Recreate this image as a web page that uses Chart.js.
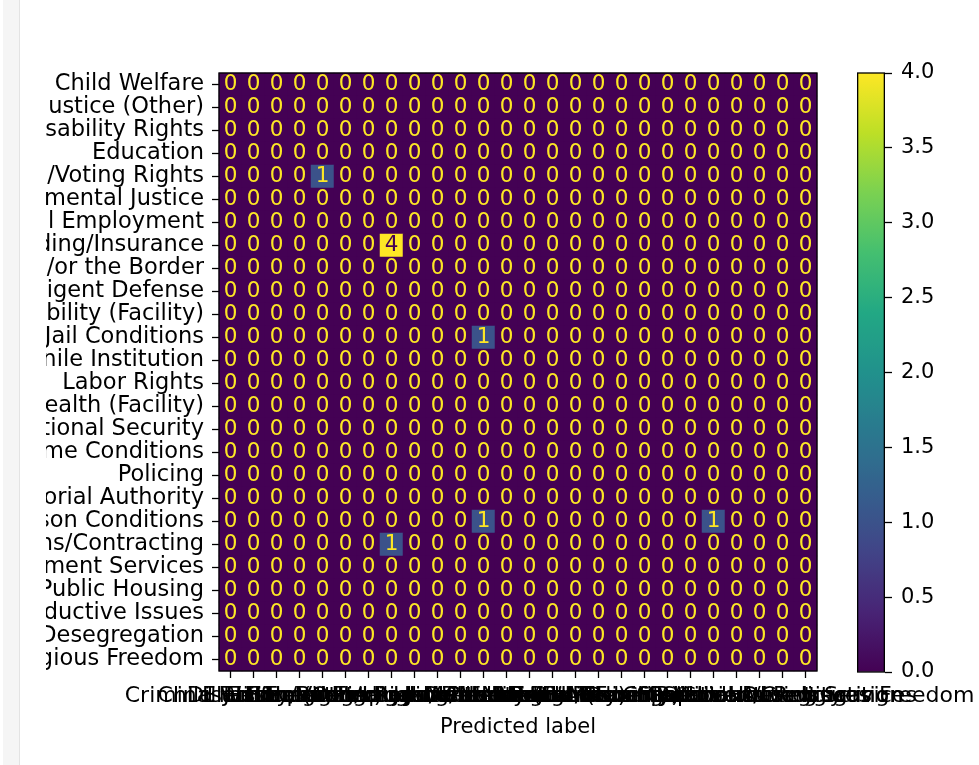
<!DOCTYPE html>
<html>
<head>
<meta charset="utf-8">
<script src="https://cdn.jsdelivr.net/npm/chart.js@4/dist/chart.umd.min.js"></script>
<style>
  html, body { margin: 0; padding: 0; background: #fff; width: 979px; height: 765px; overflow: hidden; position: relative; }
  #gutter { position: absolute; left: 3px; top: 0; width: 16px; height: 765px; background: #f5f5f5; border-right: 1px solid #e3e3e3; }
  #clip { position: absolute; left: 46px; top: 0; width: 933px; height: 765px; overflow: hidden; }
  #matrixBox { position: absolute; left: -406px; top: 0; width: 1400px; height: 765px; }
  #barBox { position: absolute; left: 857px; top: 0; width: 122px; height: 765px; }
</style>
</head>
<body>
<div id="gutter"></div>
<div id="clip"><div id="matrixBox"><canvas id="matrix" width="1400" height="765"></canvas></div></div>
<div id="barBox"><canvas id="colorbar" width="122" height="765"></canvas></div>
<script>
// Case categories (true label rows, predicted label columns)
const categories = [
  "Child Welfare",
  "Criminal Justice (Other)",
  "Disability Rights",
  "Education",
  "Election/Voting Rights",
  "Environmental Justice",
  "Equal Employment",
  "Fair Housing/Lending/Insurance",
  "Immigration and/or the Border",
  "Indigent Defense",
  "Intellectual Disability (Facility)",
  "Jail Conditions",
  "Juvenile Institution",
  "Labor Rights",
  "Mental Health (Facility)",
  "National Security",
  "Nursing Home Conditions",
  "Policing",
  "Presidential/Gubernatorial Authority",
  "Prison Conditions",
  "Public Accommodations/Contracting",
  "Public Benefits/Government Services",
  "Public Housing",
  "Reproductive Issues",
  "School Desegregation",
  "Speech and Religious Freedom"
];

// Confusion counts, one row per true label
const counts = [
  [0,0,0,0,0,0,0,0,0,0,0,0,0,0,0,0,0,0,0,0,0,0,0,0,0,0],
  [0,0,0,0,0,0,0,0,0,0,0,0,0,0,0,0,0,0,0,0,0,0,0,0,0,0],
  [0,0,0,0,0,0,0,0,0,0,0,0,0,0,0,0,0,0,0,0,0,0,0,0,0,0],
  [0,0,0,0,0,0,0,0,0,0,0,0,0,0,0,0,0,0,0,0,0,0,0,0,0,0],
  [0,0,0,0,1,0,0,0,0,0,0,0,0,0,0,0,0,0,0,0,0,0,0,0,0,0],
  [0,0,0,0,0,0,0,0,0,0,0,0,0,0,0,0,0,0,0,0,0,0,0,0,0,0],
  [0,0,0,0,0,0,0,0,0,0,0,0,0,0,0,0,0,0,0,0,0,0,0,0,0,0],
  [0,0,0,0,0,0,0,4,0,0,0,0,0,0,0,0,0,0,0,0,0,0,0,0,0,0],
  [0,0,0,0,0,0,0,0,0,0,0,0,0,0,0,0,0,0,0,0,0,0,0,0,0,0],
  [0,0,0,0,0,0,0,0,0,0,0,0,0,0,0,0,0,0,0,0,0,0,0,0,0,0],
  [0,0,0,0,0,0,0,0,0,0,0,0,0,0,0,0,0,0,0,0,0,0,0,0,0,0],
  [0,0,0,0,0,0,0,0,0,0,0,1,0,0,0,0,0,0,0,0,0,0,0,0,0,0],
  [0,0,0,0,0,0,0,0,0,0,0,0,0,0,0,0,0,0,0,0,0,0,0,0,0,0],
  [0,0,0,0,0,0,0,0,0,0,0,0,0,0,0,0,0,0,0,0,0,0,0,0,0,0],
  [0,0,0,0,0,0,0,0,0,0,0,0,0,0,0,0,0,0,0,0,0,0,0,0,0,0],
  [0,0,0,0,0,0,0,0,0,0,0,0,0,0,0,0,0,0,0,0,0,0,0,0,0,0],
  [0,0,0,0,0,0,0,0,0,0,0,0,0,0,0,0,0,0,0,0,0,0,0,0,0,0],
  [0,0,0,0,0,0,0,0,0,0,0,0,0,0,0,0,0,0,0,0,0,0,0,0,0,0],
  [0,0,0,0,0,0,0,0,0,0,0,0,0,0,0,0,0,0,0,0,0,0,0,0,0,0],
  [0,0,0,0,0,0,0,0,0,0,0,1,0,0,0,0,0,0,0,0,0,1,0,0,0,0],
  [0,0,0,0,0,0,0,1,0,0,0,0,0,0,0,0,0,0,0,0,0,0,0,0,0,0],
  [0,0,0,0,0,0,0,0,0,0,0,0,0,0,0,0,0,0,0,0,0,0,0,0,0,0],
  [0,0,0,0,0,0,0,0,0,0,0,0,0,0,0,0,0,0,0,0,0,0,0,0,0,0],
  [0,0,0,0,0,0,0,0,0,0,0,0,0,0,0,0,0,0,0,0,0,0,0,0,0,0],
  [0,0,0,0,0,0,0,0,0,0,0,0,0,0,0,0,0,0,0,0,0,0,0,0,0,0],
  [0,0,0,0,0,0,0,0,0,0,0,0,0,0,0,0,0,0,0,0,0,0,0,0,0,0]
];

// Colour bar tick values
const colorbarTicks = [0.0, 0.5, 1.0, 1.5, 2.0, 2.5, 3.0, 3.5, 4.0];

// Viridis colour map stops
const viridis = ["#440154", "#482475", "#414487", "#355f8d", "#2a788e",
                 "#21918c", "#22a884", "#44bf70", "#7ad151", "#bddf26", "#fde725"];

function hexToRgb(h) {
  return [parseInt(h.slice(1, 3), 16), parseInt(h.slice(3, 5), 16), parseInt(h.slice(5, 7), 16)];
}
function colorAt(t) {
  t = Math.max(0, Math.min(1, t));
  const pos = t * (viridis.length - 1);
  const i = Math.min(Math.floor(pos), viridis.length - 2);
  const f = pos - i;
  const a = hexToRgb(viridis[i]), b = hexToRgb(viridis[i + 1]);
  const c = a.map((v, k) => Math.round(v + (b[k] - v) * f));
  return `rgb(${c[0]},${c[1]},${c[2]})`;
}

const flat = counts.flat();
const vMin = Math.min(...flat);
const vMax = Math.max(...flat);
const threshold = (vMin + vMax) / 2;
const norm = v => (v - vMin) / (vMax - vMin || 1);

const cells = [];
counts.forEach((row, r) => row.forEach((v, c) => {
  cells.push({ x: categories[c], y: categories[r], v: v });
}));

Chart.defaults.font.family = "'DejaVu Sans', sans-serif";
Chart.defaults.color = "#000";

const labelFont = { size: 21, family: "'DejaVu Sans', sans-serif" };
const rowFont = { size: 22.5, family: "'DejaVu Sans', sans-serif" };
const colFont = { size: 22, family: "'DejaVu Sans', sans-serif" };
const n = categories.length;

// Cell numbers and the black frame around the image
const cellText = {
  id: 'cellText',
  afterDatasetsDraw(chart) {
    const ctx = chart.ctx;
    const meta = chart.getDatasetMeta(0);
    const data = chart.data.datasets[0].data;
    ctx.save();
    ctx.font = "21.5px 'DejaVu Sans', sans-serif";
    ctx.textAlign = 'center';
    ctx.textBaseline = 'middle';
    meta.data.forEach((pt, i) => {
      const v = data[i].v;
      ctx.fillStyle = v < threshold ? colorAt(1) : colorAt(0);
      ctx.fillText(String(v), pt.x, pt.y);
    });
    const a = chart.chartArea;
    ctx.strokeStyle = '#000';
    ctx.lineWidth = 1.3;
    ctx.strokeRect(a.left, a.top, a.right - a.left, a.bottom - a.top);
    ctx.restore();
  }
};

const tickGrid = { drawOnChartArea: false, drawTicks: true, tickLength: 7, tickWidth: 1.3, tickColor: '#000' };

const cellRadius = ctx => {
  const a = ctx.chart.chartArea;
  if (!a) return 0;
  return ((a.right - a.left) / n) / Math.SQRT2 + 0.35;
};
const cellColor = ctx => colorAt(norm(ctx.raw ? ctx.raw.v : 0));

new Chart(document.getElementById('matrix'), {
  type: 'scatter',
  data: {
    datasets: [{
      data: cells,
      pointStyle: 'rect',
      pointBorderWidth: 0,
      pointRadius: cellRadius,
      pointHoverRadius: cellRadius,
      pointBackgroundColor: cellColor,
      pointHoverBackgroundColor: cellColor
    }]
  },
  options: {
    responsive: false,
    animation: false,
    events: [],
    layout: { padding: { top: 73, right: 223, bottom: 0, left: 0 } },
    plugins: { legend: { display: false }, tooltip: { enabled: false } },
    scales: {
      x: {
        type: 'category',
        labels: categories,
        offset: true,
        position: 'bottom',
        grid: tickGrid,
        border: { display: false },
        ticks: { autoSkip: false, maxRotation: 0, minRotation: 0, padding: 5, color: '#000', font: colFont },
        title: { display: true, text: 'Predicted label', color: '#000', font: labelFont, padding: { top: 0, bottom: 25 } },
        afterFit(s) { s.height = 94; s.paddingLeft = 0; s.paddingRight = 0; }
      },
      y: {
        type: 'category',
        labels: categories,
        offset: true,
        position: 'left',
        grid: tickGrid,
        border: { display: false },
        ticks: { autoSkip: false, padding: 8, color: '#000', font: rowFont },
        afterFit(s) { s.width = 579; s.paddingTop = 0; s.paddingBottom = 0; }
      }
    }
  },
  plugins: [cellText]
});

// Colour bar drawn as a single floating bar with a viridis gradient
const frame = {
  id: 'frame',
  afterDatasetsDraw(chart) {
    const a = chart.chartArea, ctx = chart.ctx;
    ctx.save();
    ctx.strokeStyle = '#000';
    ctx.lineWidth = 1.3;
    ctx.strokeRect(a.left + 0.65, a.top, a.right - a.left - 1.3, a.bottom - a.top);
    ctx.restore();
  }
};

new Chart(document.getElementById('colorbar'), {
  type: 'bar',
  data: {
    labels: [''],
    datasets: [{
      data: [[vMin, vMax]],
      borderWidth: 0,
      barPercentage: 1,
      categoryPercentage: 1,
      backgroundColor: ctx => {
        const a = ctx.chart.chartArea;
        if (!a) return viridis[0];
        const g = ctx.chart.ctx.createLinearGradient(0, a.bottom, 0, a.top);
        for (let i = 0; i <= 40; i++) g.addColorStop(i / 40, colorAt(i / 40));
        return g;
      }
    }]
  },
  options: {
    responsive: false,
    animation: false,
    events: [],
    layout: { padding: { top: 73, right: 0, bottom: 93, left: 0 } },
    plugins: { legend: { display: false }, tooltip: { enabled: false } },
    scales: {
      x: { display: false },
      y: {
        position: 'right',
        min: vMin,
        max: vMax,
        grid: tickGrid,
        border: { display: false },
        ticks: { padding: 9, color: '#000', font: labelFont, callback: v => Number(v).toFixed(1) },
        afterBuildTicks(s) { s.ticks = colorbarTicks.map(v => ({ value: v })); },
        afterFit(s) { s.width = 94; s.paddingTop = 0; s.paddingBottom = 0; }
      }
    }
  },
  plugins: [frame]
});
</script>
</body>
</html>
